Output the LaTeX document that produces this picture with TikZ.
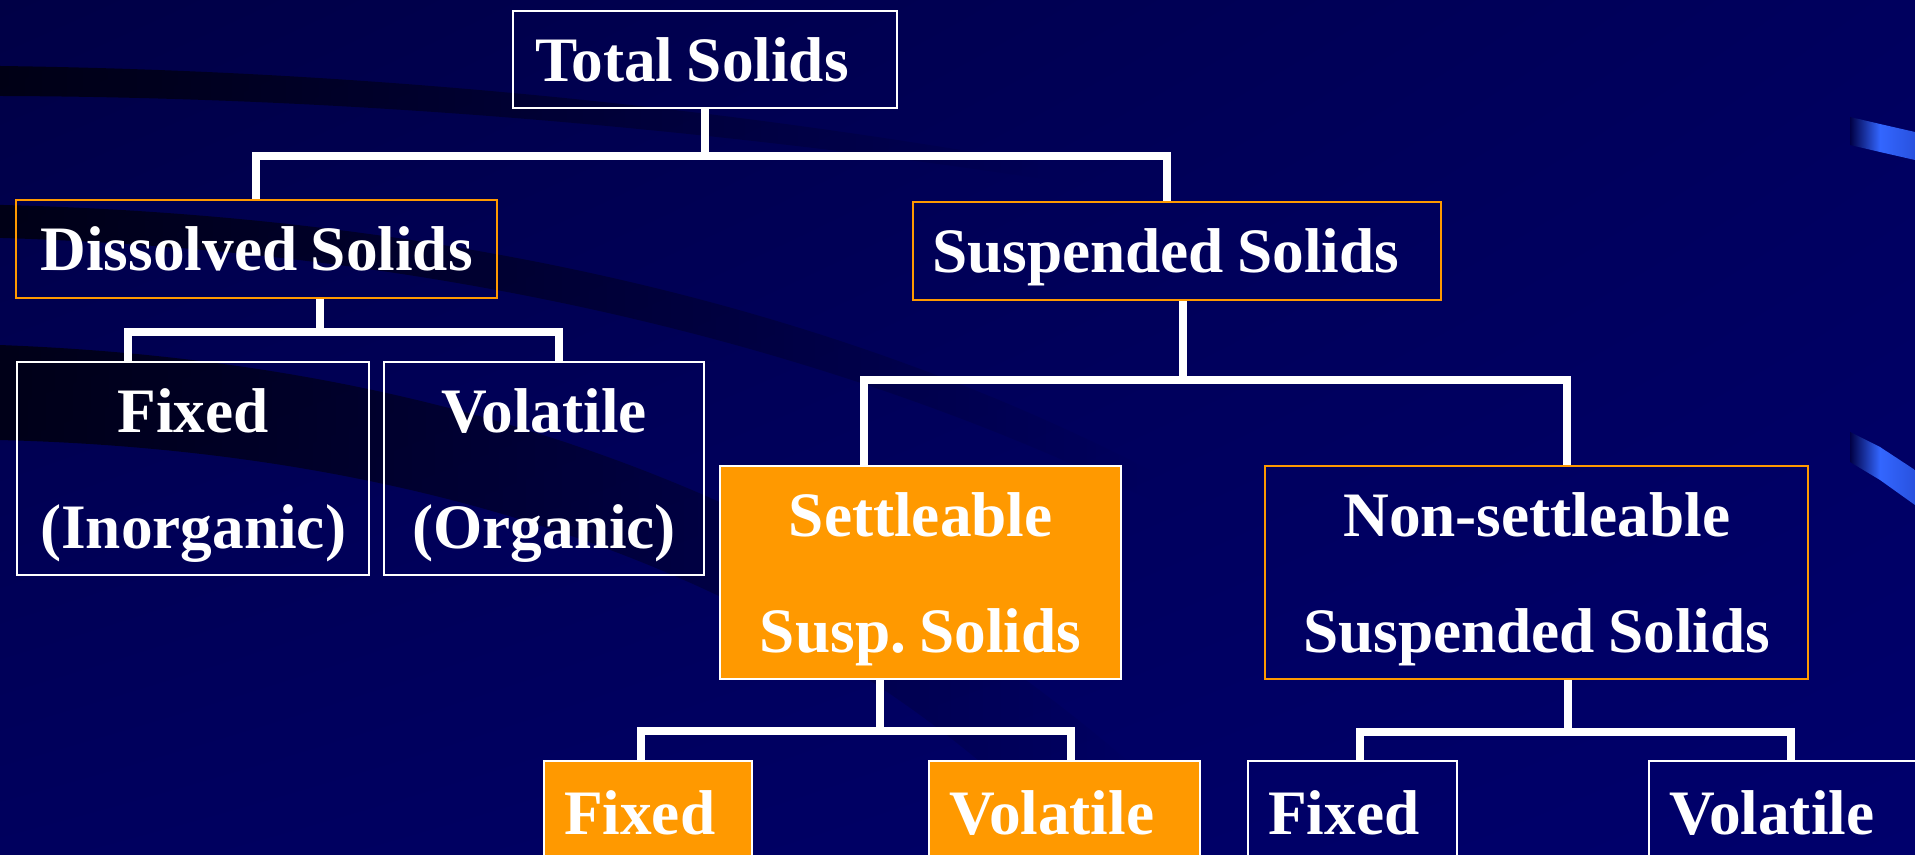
\documentclass[tikz,border=0pt]{standalone}
\usepackage{fontspec}
\setmainfont{Liberation Serif}[WordSpace=0.85]
\frenchspacing
\usetikzlibrary{calc,fadings,shadings}
\definecolor{navy}{RGB}{0,0,94}
\definecolor{navydark}{RGB}{0,0,70}
\definecolor{navylight}{RGB}{0,0,108}
\definecolor{orng}{RGB}{255,153,0}
\definecolor{ribbon}{RGB}{51,102,255}
\tikzset{
  box/.style={draw=white,line width=0.6pt,text=white,inner sep=0pt,anchor=north west,
    font=\bfseries\fontsize{18}{32.8}\selectfont},
  obox/.style={box,draw=orng},
  ofill/.style={box,fill=orng},
  one/.style={text height=0.43cm,text depth=0pt},
  two/.style={align=center,minimum height=2.13cm},
  low/.style={align=left,inner xsep=0.2cm,inner ysep=0.3cm,text height=0.43cm,
    text depth=1.6cm,text width=#1},
  link/.style={draw=white,line width=2.3pt,line join=miter},
  swoosh/.style={fill=black,opacity=0.7,path fading=east},
  ribbonA/.style={left color=navydark,right color=ribbon},
  ribbonB/.style={left color=ribbon,right color=ribbon!80!navy}
}

\begin{document}
\begin{tikzpicture}[x=0.01cm,y=-0.01cm]
\useasboundingbox (0,0) rectangle (1915,855);
\clip (0,0) rectangle (1915,855);

% background
\shade[upper left=navydark,upper right=navy,lower left=navy,lower right=navylight]
  (0,0) rectangle (1915,855);
\fill[swoosh] (0,66) .. controls (300,70) and (650,95) .. (1050,165)
  -- (1050,180) .. controls (650,120) and (300,97) .. (0,96) -- cycle;
\fill[swoosh] (0,205) .. controls (400,215) and (800,290) .. (1150,470)
  -- (1150,500) .. controls (800,330) and (400,250) .. (0,238) -- cycle;
\fill[swoosh] (0,345) .. controls (400,360) and (800,470) .. (1150,780)
  -- (1150,855) -- (1080,855) .. controls (800,560) and (400,450) .. (0,440) -- cycle;
\shade[ribbonA] (1850,117) -- (1880,124) -- (1880,152) -- (1850,145) -- cycle;
\shade[ribbonB] (1880,124) -- (1915,132) -- (1915,160) -- (1880,152) -- cycle;
\shade[ribbonA] (1850,432) -- (1880,447) -- (1880,480) -- (1850,462) -- cycle;
\shade[ribbonB] (1880,447) -- (1915,470) -- (1915,505) -- (1880,480) -- cycle;

% boxes
\node[box,one,inner xsep=0.22cm,minimum height=0.97cm]
  (tot) at (512,10) {\makebox[3.40cm][l]{Total Solids}};
\node[obox,one,minimum width=4.81cm,minimum height=0.98cm] (dis) at (15,199) {Dissolved Solids};
\node[obox,one,inner xsep=0.19cm,minimum height=0.98cm]
  (sus) at (912,201) {\makebox[4.90cm][l]{Suspended Solids}};
\node[box,two,minimum width=3.52cm] (fixA) at (16,361) {Fixed\\\smash{(Inorganic)}};
\node[box,two,minimum width=3.20cm] (volA) at (383,361) {Volatile\\\smash{(Organic)}};
\node[ofill,two,minimum width=4.01cm] (set) at (719,465) {Settleable\\\smash{Susp. Solids}};
\node[obox,two,minimum width=5.43cm] (non) at (1264,465) {Non-settleable\\\smash{Suspended Solids}};
\node[ofill,low=1.68cm] (fixB) at (543,760) {Fixed};
\node[ofill,low=2.31cm] (volB) at (928,760) {Volatile};
\node[box,low=1.69cm] (fixC) at (1247,760) {Fixed};
\node[box,low=2.32cm] (volC) at (1648,760) {Volatile};

% connectors
\draw[link] (tot.south) -- ++(0,47) coordinate (b1);
\draw[link] ($(dis.north west)+(241,0)$) |- (b1) -| ($(sus.north west)+(255,0)$);
\draw[link] ($(dis.south west)+(305,0)$) -- ++(0,33) coordinate (b2);
\draw[link] ($(fixA.north west)+(112,0)$) |- (b2) -| ($(volA.north west)+(176,0)$);
\draw[link] ($(sus.south west)+(271,0)$) -- ++(0,79) coordinate (b3);
\draw[link] ($(set.north west)+(145,0)$) |- (b3) -| ($(non.north west)+(303,0)$);
\draw[link] ($(set.south west)+(161,0)$) -- ++(0,51) coordinate (b4);
\draw[link] ($(fixB.north west)+(98,0)$) |- (b4) -| ($(volB.north west)+(143,0)$);
\draw[link] ($(non.south west)+(304,0)$) -- ++(0,52) coordinate (b5);
\draw[link] ($(fixC.north west)+(113,0)$) |- (b5) -| ($(volC.north west)+(143,0)$);
\end{tikzpicture}
\end{document}
